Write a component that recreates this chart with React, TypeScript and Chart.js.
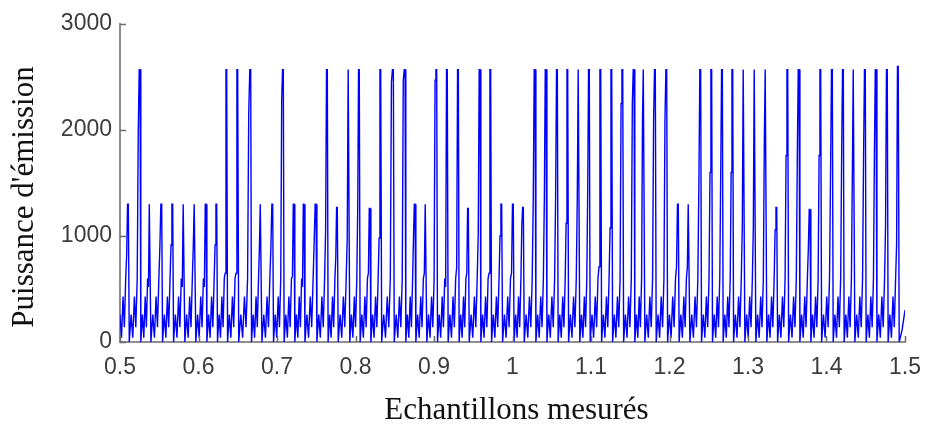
import React, { useEffect, useRef } from "react";
import { Chart, registerables } from "chart.js";

Chart.register(...registerables);

// Spike positions (x, in sample units)
const spikeX = [
  0.5106, 0.5255, 0.5382, 0.5531, 0.5671, 0.5815, 0.5955, 0.6096, 0.6232, 0.6359,
  0.6499, 0.6665, 0.6796, 0.6945, 0.708, 0.7217, 0.7344, 0.7497, 0.7641, 0.7768,
  0.7917, 0.8048, 0.8185, 0.8321, 0.8482, 0.8631, 0.8758, 0.8898, 0.9034, 0.9169,
  0.931, 0.9437, 0.9586, 0.9722, 0.9862, 1.001, 1.0138, 1.0287, 1.0427, 1.0571,
  1.0703, 1.0847, 1.0978, 1.1124, 1.1264, 1.1404, 1.1548, 1.1675, 1.1819, 1.1964,
  1.2112, 1.2248, 1.2397, 1.2537, 1.2673, 1.2805, 1.2949, 1.3089, 1.3229, 1.3366,
  1.3506, 1.365, 1.379, 1.3926, 1.4074, 1.4214, 1.435, 1.4494, 1.4631, 1.4774,
  1.4914,
];

// Peak value of each spike
const spikePeak = [
  1300, 2570, 1300, 1300, 1300, 1300, 1300, 1300, 1300, 2570,
  2570, 2570, 1300, 1300, 2570, 1300, 1300, 1300, 2570, 1270,
  2570, 2570, 1260, 2570, 2570, 2570, 1300, 1300, 2570, 2570,
  2570, 1260, 2570, 2570, 1300, 1300, 1270, 2570, 2570, 2570,
  2570, 2570, 2570, 2570, 2570, 2570, 2570, 2570, 2570, 2570,
  1300, 1300, 2570, 2570, 2570, 2570, 2570, 2570, 2570, 1270,
  2570, 2570, 1250, 2570, 2570, 2570, 2570, 2570, 2570, 2570,
  2600,
];

// Level from which each spike jumps up
const spikeShoulder = [
  820, 1980, 520, 915, 915, 520, 915, 520, 915, 650,
  650, 2170, 900, 900, 2280, 615, 520, 960, 1060, 800,
  980, 1260, 650, 980, 2450, 2470, 990, 650, 2470, 520,
  700, 650, 1020, 650, 1000, 650, 1100, 1370, 1370, 1370,
  1120, 1370, 1450, 710, 1075, 2250, 2250, 2090, 2090, 2090,
  710, 710, 1510, 1600, 1600, 1600, 1085, 1085, 1890, 1057,
  1760, 1760, 885, 1760, 1600, 1760, 1600, 1760, 1760, 1120,
  915,
];

// Small oscillation between spikes (fraction of the cycle, level)
const cycleFrac = [0.08, 0.24, 0.38, 0.52, 0.64, 0.76];
const cycleLevel = [0, 260, 40, 430, 140, 600];
const shoulderFrac = 0.85;
const peakLeadFrac = 0.93;
const firstCycleStart = 0.4966;

// End of the record after the last spike
const tailX = [1.4926, 1.4962, 1.5];
const tailY = [0, 110, 300];

const yTicks = [0, 1000, 2000, 3000];
const xTicks = [0.5, 0.6, 0.7, 0.8, 0.9, 1, 1.1, 1.2, 1.3, 1.4, 1.5];

const xTitle = "Echantillons mesurés";
const yTitle = "Puissance d'émission";

function buildPoints() {
  const pts: { x: number; y: number }[] = [];
  let prev = firstCycleStart;
  spikeX.forEach((s, i) => {
    const span = s - prev;
    cycleFrac.forEach((f, k) => pts.push({ x: prev + span * f, y: cycleLevel[k] }));
    pts.push({ x: prev + span * shoulderFrac, y: spikeShoulder[i] });
    pts.push({ x: prev + span * peakLeadFrac, y: spikePeak[i] });
    pts.push({ x: s, y: spikePeak[i] });
    prev = s;
  });
  tailX.forEach((x, i) => pts.push({ x, y: tailY[i] }));
  return pts;
}

const axisDecor = {
  id: "axisDecor",
  afterDraw(chart: any) {
    const { ctx, chartArea, scales } = chart;
    const xs = scales.x;
    const ys = scales.y;
    ctx.save();
    ctx.strokeStyle = "#6a6a6a";
    ctx.lineWidth = 1.5;
    yTicks.forEach((v) => {
      const y = Math.round(ys.getPixelForValue(v)) + 0.5;
      ctx.beginPath();
      ctx.moveTo(chartArea.left, y);
      ctx.lineTo(chartArea.left + 6, y);
      ctx.stroke();
    });
    xTicks.forEach((v) => {
      const x = Math.round(xs.getPixelForValue(v)) + 0.5;
      ctx.beginPath();
      ctx.moveTo(x, chartArea.bottom);
      ctx.lineTo(x, chartArea.bottom - 6);
      ctx.stroke();
    });
    ctx.fillStyle = "#111";
    ctx.font = '31px "Liberation Serif", "Times New Roman", serif';
    ctx.textAlign = "center";
    ctx.textBaseline = "middle";
    ctx.fillText(xTitle, (chartArea.left + chartArea.right) / 2 + 4, 411);
    ctx.translate(25, 197);
    ctx.rotate(-Math.PI / 2);
    ctx.fillText(yTitle, 0, 0);
    ctx.restore();
  },
};

export default function App() {
  const ref = useRef<HTMLCanvasElement>(null);
  useEffect(() => {
    if (!ref.current) return;
    const tickFont = { family: '"Liberation Sans", Arial, sans-serif', size: 23 };
    const chart = new Chart(ref.current, {
      type: "line",
      data: {
        datasets: [
          {
            data: buildPoints(),
            borderColor: "rgb(0,0,255)",
            borderWidth: 1.4,
            pointRadius: 0,
            tension: 0,
            fill: false,
          },
        ],
      },
      options: {
        animation: false,
        responsive: false,
        devicePixelRatio: 1,
        parsing: false,
        layout: { padding: { top: 24, right: 22, left: 0, bottom: 0 } },
        plugins: { legend: { display: false }, tooltip: { enabled: false }, title: { display: false } },
        scales: {
          x: {
            type: "linear",
            min: 0.5,
            max: 1.5,
            afterFit: (s: any) => { s.height = 94; },
            afterBuildTicks: (s: any) => { s.ticks = xTicks.map((v) => ({ value: v })); },
            grid: { display: false },
            border: { display: true, color: "#8e8e8e", width: 2 },
            ticks: {
              font: tickFont,
              color: "#3c3c3c",
              padding: 4,
              maxRotation: 0,
              autoSkip: false,
              callback: (v: any) => String(Number(Number(v).toFixed(1))),
            },
          },
          y: {
            type: "linear",
            min: 0,
            max: 3000,
            afterFit: (s: any) => { s.width = 120; },
            afterBuildTicks: (s: any) => { s.ticks = yTicks.map((v) => ({ value: v })); },
            grid: { display: false },
            border: { display: true, color: "#8e8e8e", width: 2 },
            ticks: {
              font: tickFont,
              color: "#3c3c3c",
              padding: 0,
              autoSkip: false,
              callback: (v: any) => String(v),
            },
          },
        },
      },
      plugins: [axisDecor],
    });
    return () => chart.destroy();
  }, []);
  return (
    <div style={{ position: "absolute", left: 0, top: 0, width: 927, height: 436, background: "#fff" }}>
      <canvas ref={ref} width={927} height={436} />
    </div>
  );
}
